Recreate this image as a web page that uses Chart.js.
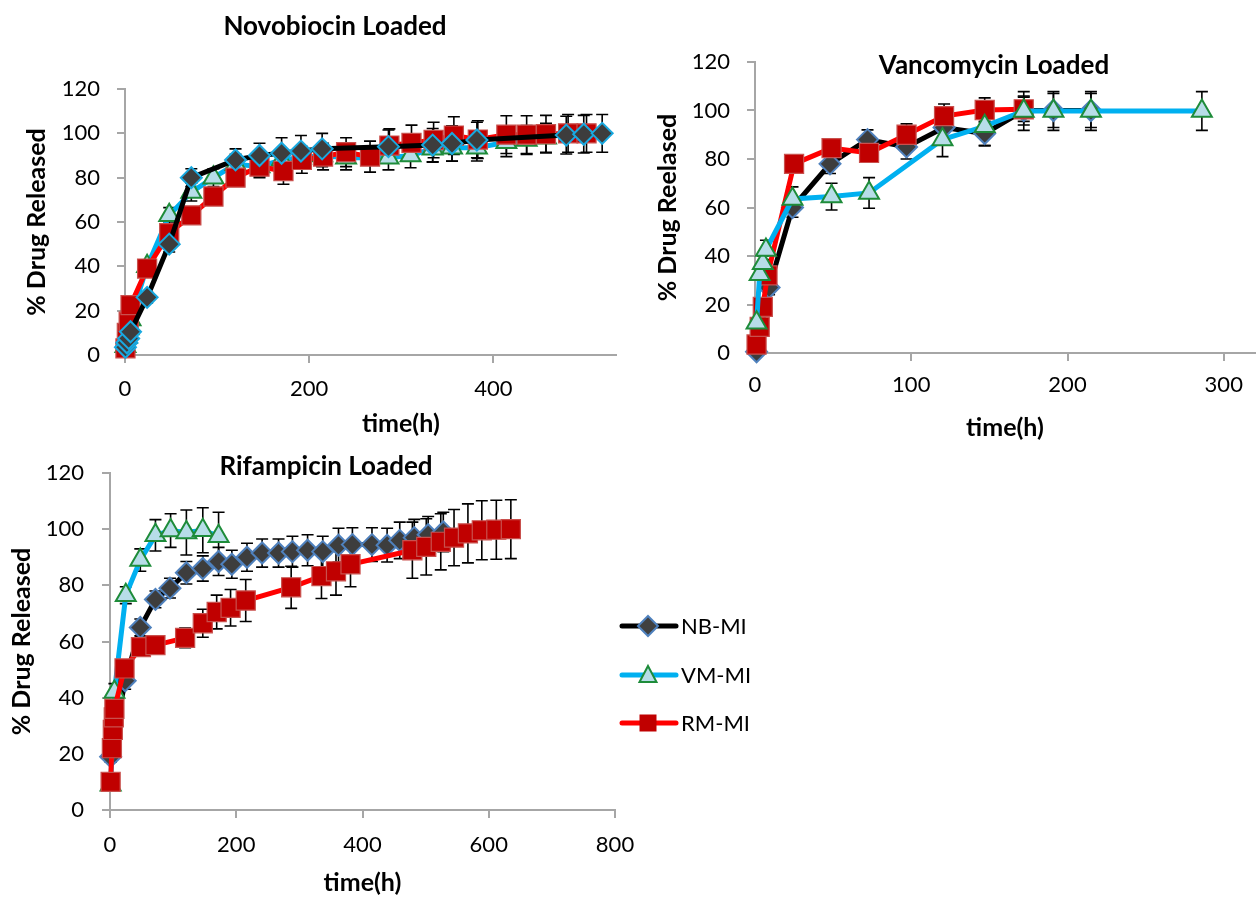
<!DOCTYPE html>
<html>
<head>
<meta charset="utf-8">
<script src="https://cdn.jsdelivr.net/npm/chart.js@4.4.1/dist/chart.umd.min.js"></script>
<style>
html,body{margin:0;padding:0;background:#fff;width:1257px;height:898px;overflow:hidden;font-family:Lato,"DejaVu Sans",sans-serif;}
canvas{position:absolute;}
.title{position:absolute;font-weight:bold;font-size:26px;line-height:1;white-space:nowrap;transform:translate(-50%,-50%);color:#000;}
.leg{position:absolute;left:619px;height:24px;}
.leg svg{position:absolute;left:0;top:0;}
.leg span{position:absolute;left:62px;top:50%;transform:translateY(-50%);font-size:22px;line-height:1;white-space:nowrap;color:#000;}
</style>
</head>
<body>
<canvas id="c1" width="640" height="440" style="left:0;top:0"></canvas>
<canvas id="c2" width="617" height="450" style="left:640px;top:0"></canvas>
<canvas id="c3" width="640" height="458" style="left:0;top:440px"></canvas>

<div class="title" style="left:335px;top:25px">Novobiocin Loaded</div>
<div class="title" style="left:994px;top:64px">Vancomycin Loaded</div>
<div class="title" style="left:326px;top:465px">Rifampicin Loaded</div>

<div class="leg" style="top:614px">
  <svg width="60" height="24"><line x1="3" y1="12" x2="57" y2="12" stroke="#000" stroke-width="5" stroke-linecap="round"/><polygon points="29,2 39,12 29,22 19,12" fill="#404040" stroke="#4f81bd" stroke-width="2"/></svg>
  <span>NB-MI</span>
</div>
<div class="leg" style="top:663px">
  <svg width="60" height="24"><line x1="3" y1="12" x2="57" y2="12" stroke="#00b0f0" stroke-width="5" stroke-linecap="round"/><polygon points="29,3 37.5,19 20.5,19" fill="#b7dde8" stroke="#1e8c3a" stroke-width="2"/></svg>
  <span>VM-MI</span>
</div>
<div class="leg" style="top:711px">
  <svg width="60" height="24"><line x1="3" y1="12" x2="57" y2="12" stroke="#ff0000" stroke-width="5" stroke-linecap="round"/><rect x="20.5" y="3.5" width="17" height="17" fill="#c00000"/></svg>
  <span>RM-MI</span>
</div>

<script>
// ---------- tick labels ----------
const yTicks = [0, 20, 40, 60, 80, 100, 120];
const xTicksNovo = [0, 200, 400];
const xTicksVanco = [0, 100, 200, 300];
const xTicksRif = [0, 200, 400, 600, 800];
const seriesNames = ['NB-MI', 'VM-MI', 'RM-MI'];

// ---------- Novobiocin Loaded ----------
const novoNB_t = [0.5, 2, 4, 6, 24, 48, 72, 120, 146, 170, 191, 214, 286, 334, 355, 382, 479, 498, 518];
const novoNB_y = [3.5, 5.5, 7.5, 10.5, 26, 50, 80, 88, 90, 91, 92, 93, 94, 94.7, 95.4, 97, 99.2, 99.6, 100];
const novoNB_e = [1, 1, 1, 1.5, 2.5, 3.5, 4, 5, 5.5, 7, 7, 7, 7.5, 7.5, 8, 8, 8.5, 8.5, 8.5];

const novoVM_t = [0.5, 2, 4, 6, 24, 48, 72, 96, 120, 146, 170, 191, 214, 240, 286, 310, 334, 355, 382, 414, 436, 457];
const novoVM_y = [4, 8, 12, 16, 40, 63, 73.5, 80, 86, 85, 88, 89, 90, 89, 89, 90, 93, 93.5, 93.5, 96, 97, 98];
const novoVM_e = [1, 1, 1.5, 2, 3, 3.5, 4, 4, 4.5, 5, 5, 5, 5, 5.5, 5.5, 5.5, 6, 6, 6, 6.5, 6.5, 6.5];

const novoRM_t = [0.5, 2, 4, 6, 24, 48, 72, 96, 120, 146, 172, 192, 215, 240, 266, 287, 311, 335, 357, 383, 414, 436, 457, 481, 501];
const novoRM_y = [3, 10, 15, 22.5, 39, 55, 63, 71.5, 80, 85, 83, 88, 89.5, 91.5, 89.5, 94.5, 95.7, 97, 99, 97.2, 99.4, 99.4, 99.6, 100, 100];
const novoRM_e = [0.5, 1, 1.5, 2, 3, 4, 3, 3, 3.5, 4.5, 6, 6, 6, 6.5, 7, 7.5, 8, 8, 8.5, 8.5, 8.5, 8.5, 8.5, 8.5, 8.5];

// ---------- Vancomycin Loaded ----------
const vanNB_t = [1, 9, 24, 48, 72, 97, 121, 147, 172, 191, 215];
const vanNB_y = [0.5, 27, 60, 78, 88, 85, 93, 90.5, 100, 100, 100];
const vanNB_e = [1, 3, 4, 4, 4, 5, 6, 5, 6, 7, 7];

const vanVM_t = [1, 3, 5, 7, 24, 49, 73, 120, 147, 172, 191, 215, 286];
const vanVM_y = [12.5, 32.5, 37, 42.5, 63.5, 64.5, 66, 88, 93.5, 99.8, 99.8, 99.8, 99.8];
const vanVM_e = [1, 2, 3, 4, 5, 5.5, 6.3, 7, 8, 8, 8, 8, 8];

const vanRM_t = [1, 3, 5, 8, 25, 49, 73, 97, 121, 147, 172];
const vanRM_y = [3.5, 10.8, 19, 32, 78, 84.5, 82.5, 90, 97.7, 100.2, 100.5];
const vanRM_e = [0.5, 1, 1.5, 2, 3, 3, 3, 4.5, 5, 5, 5];

// ---------- Rifampicin Loaded ----------
const rifNB_t = [1, 24, 48, 72, 95, 121, 147, 172, 193, 217, 241, 267, 289, 313, 337, 362, 384, 415, 439, 459, 482, 504, 528];
const rifNB_y = [19, 46, 65, 75, 79, 84.5, 86, 88.5, 87.5, 90, 91.5, 91.5, 92, 92.5, 92, 94.3, 94.5, 94.5, 94.3, 96, 97, 98, 99];
const rifNB_e = [2, 3, 3, 3, 3.5, 4, 4.5, 5, 5, 5, 5, 5, 5.5, 5.5, 5.5, 6, 6, 6, 6, 6.5, 6.5, 6.5, 7];

const rifVM_t = [1, 7, 25, 48, 72, 96, 121, 147, 172];
const rifVM_y = [9, 42, 76.5, 89, 97.8, 99.5, 98.8, 99.6, 97.5];
const rifVM_e = [1, 3, 3, 4, 5.6, 6, 8, 8, 8.5];

const rifRM_t = [1, 3, 4.5, 6, 7, 23, 49, 72, 119, 147, 169, 191, 215, 287, 335, 358, 381, 479, 501, 524, 545, 567, 589, 612, 635];
const rifRM_y = [10, 22, 28.5, 33, 36, 50.4, 58, 58.7, 61.3, 66.5, 70.5, 72, 74.6, 79.3, 83.3, 85, 87.5, 92.5, 93.7, 95.5, 97, 98.5, 99.6, 99.8, 100];
const rifRM_e = [1, 1.5, 2, 2, 2.5, 3, 2.5, 3, 3.5, 5, 6, 6.5, 7.5, 7.5, 8, 8.5, 8, 10, 10, 10, 10, 10.5, 10.5, 10.5, 10.5];

// ---------- styles ----------
const AXIS = '#a6a6a6';
Chart.defaults.font.family = 'Lato, "DejaVu Sans", sans-serif';
Chart.defaults.color = '#000';

function styleNB(border) {
  return { borderColor: '#000000', pointStyle: 'rectRot', pointRadius: 10.5, pointBackgroundColor: '#3d3d3d', pointBorderColor: border, pointBorderWidth: 2 };
}
const styleVM = { borderColor: '#00b0f0', pointStyle: 'triangle', pointRadius: 11.5, pointBackgroundColor: '#b7dde8', pointBorderColor: '#1e8c3a', pointBorderWidth: 2 };
const styleRM = { borderColor: '#ff0000', pointStyle: 'rect', pointRadius: 13.5, pointBackgroundColor: '#c00000', pointBorderColor: '#c9504d', pointBorderWidth: 1.2 };

function ds(label, t, y, e, style, order) {
  return Object.assign({
    label: label,
    data: t.map((x, i) => ({ x: x, y: y[i] })),
    errors: e,
    showLine: true,
    borderWidth: 5,
    tension: 0,
    clip: false,
    order: order
  }, style);
}

const errorBars = {
  id: 'errorBars',
  beforeDatasetsDraw(chart) {
    const ctx = chart.ctx, ys = chart.scales.y;
    ctx.save();
    ctx.strokeStyle = '#000';
    ctx.lineWidth = 1.6;
    chart.data.datasets.forEach((d, di) => {
      const meta = chart.getDatasetMeta(di);
      meta.data.forEach((pt, i) => {
        const v = d.data[i].y, e = d.errors[i];
        const x = pt.x;
        const y1 = ys.getPixelForValue(v + e), y2 = ys.getPixelForValue(v - e);
        ctx.beginPath();
        ctx.moveTo(x, y1); ctx.lineTo(x, y2);
        ctx.moveTo(x - 6, y1); ctx.lineTo(x + 6, y1);
        ctx.moveTo(x - 6, y2); ctx.lineTo(x + 6, y2);
        ctx.stroke();
      });
    });
    ctx.restore();
  }
};

function makeChart(id, datasets, o) {
  return new Chart(document.getElementById(id), {
    type: 'scatter',
    data: { datasets: datasets },
    plugins: [errorBars],
    options: {
      responsive: false,
      animation: false,
      events: [],
      layout: { padding: o.pad, autoPadding: false },
      plugins: { legend: { display: false }, tooltip: { enabled: false }, title: { display: false } },
      scales: {
        x: {
          type: 'linear', min: 0, max: o.xMax,
          afterBuildTicks: s => { s.ticks = o.xTicks.map(v => ({ value: v })); },
          afterFit: s => { s.height = o.xH; s.paddingLeft = 0; s.paddingRight = 0; },
          border: { color: AXIS, width: 2 },
          grid: { drawOnChartArea: false, drawTicks: true, tickLength: 8, color: AXIS, lineWidth: 2 },
          ticks: { color: '#000', font: { size: 22 }, padding: o.xTickPad, maxRotation: 0, autoSkip: false },
          title: { display: true, text: o.xTitle, color: '#000', font: { size: 25, weight: 'bold' }, padding: { top: 0, bottom: o.xTitlePad } }
        },
        y: {
          type: 'linear', min: 0, max: 120,
          afterBuildTicks: s => { s.ticks = yTicks.map(v => ({ value: v })); },
          afterFit: s => { s.width = o.yW; },
          border: { color: AXIS, width: 2 },
          grid: { drawOnChartArea: false, drawTicks: true, tickLength: 8, color: AXIS, lineWidth: 2 },
          ticks: { color: '#000', font: { size: 22 }, padding: o.yTickPad },
          title: { display: true, text: o.yTitle, color: '#000', font: { size: 25, weight: 'bold' }, padding: { top: o.yTitlePad, bottom: 0 } }
        }
      }
    }
  });
}

makeChart('c1', [
  ds(seriesNames[1], novoVM_t, novoVM_y, novoVM_e, styleVM, 3),
  ds(seriesNames[2], novoRM_t, novoRM_y, novoRM_e, styleRM, 2),
  ds(seriesNames[0], novoNB_t, novoNB_y, novoNB_e, styleNB('#19a9e0'), 1)
], { pad: { left: 0, right: 24, top: 89, bottom: 0 }, xMax: 533, xTicks: xTicksNovo, xH: 85, yW: 125,
     xTickPad: 13, xTitlePad: 1, yTickPad: 17, yTitlePad: 22,
     xTitle: '\u00a0\u00a0\u00a0\u00a0\u00a0\u00a0\u00a0\u00a0\u00a0\u00a0time(h)', yTitle: '% Drug Released' });

makeChart('c2', [
  ds(seriesNames[0], vanNB_t, vanNB_y, vanNB_e, styleNB('#4f81bd'), 3),
  ds(seriesNames[2], vanRM_t, vanRM_y, vanRM_e, styleRM, 2),
  ds(seriesNames[1], vanVM_t, vanVM_y, vanVM_e, styleVM, 1)
], { pad: { left: 0, right: 2, top: 62, bottom: 0 }, xMax: 320, xTicks: xTicksVanco, xH: 97, yW: 115,
     xTickPad: 11, xTitlePad: 7, yTickPad: 17, yTitlePad: 13,
     xTitle: 'time(h)', yTitle: '% Drug Reelased' });

makeChart('c3', [
  ds(seriesNames[0], rifNB_t, rifNB_y, rifNB_e, styleNB('#4f81bd'), 3),
  ds(seriesNames[1], rifVM_t, rifVM_y, rifVM_e, styleVM, 2),
  ds(seriesNames[2], rifRM_t, rifRM_y, rifRM_e, styleRM, 1)
], { pad: { left: 0, right: 25, top: 33, bottom: 0 }, xMax: 800, xTicks: xTicksRif, xH: 88, yW: 110,
     xTickPad: 14, xTitlePad: 0, yTickPad: 18, yTitlePad: 7,
     xTitle: 'time(h)', yTitle: '% Drug Released' });
</script>
</body>
</html>
